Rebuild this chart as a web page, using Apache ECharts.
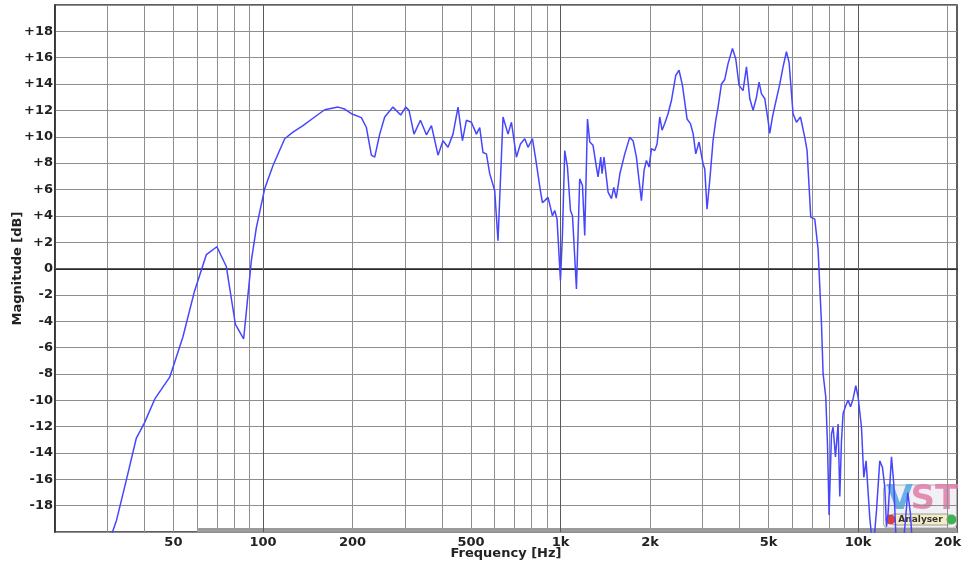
<!DOCTYPE html>
<html><head><meta charset="utf-8">
<script src="https://cdn.jsdelivr.net/npm/echarts@6/dist/echarts.min.js"></script>
<style>html,body{margin:0;padding:0;background:#fff}#c{width:962px;height:564px}</style>
</head><body><div id="c"></div>
<script>
// Frequency (Hz) and magnitude (dB)
const freqs = [30.5,31.2,32.2,34.7,37.5,40.0,43.3,48.6,53.8,58.9,64.5,70.0,75.3,80.8,86.1,91.4,95.0,101.3,108,118.3,126.1,136.3,149.2,161.2,178.7,188.2,198.2,214.1,222.6,231.4,237.4,246.8,256.5,273.5,290.3,301.8,309.6,321.8,338.2,354.2,368.3,387.5,402.7,418.6,435.2,452.4,468.1,482.7,501.8,521.6,535.1,548.9,563.5,578.1,600.9,616.4,640.8,666.1,683.9,710.9,733.2,758.1,777.7,804.5,825.3,855.9,869.4,885,907.9,939.3,956.1,973.3,999.3,1015,1033,1055,1080,1097,1131,1160,1185,1206,1232,1254,1286,1320,1337,1365,1379,1400,1445,1483,1510,1539,1585,1644,1708,1753,1799,1836,1870,1909,1944,1984,2021,2073,2111,2155,2194,2240,2298,2359,2439,2502,2569,2662,2733,2789,2848,2921,3013,3053,3107,3181,3255,3324,3384,3474,3564,3656,3783,3881,3981,4106,4216,4325,4437,4555,4647,4735,4857,4983,5049,5155,5289,5455,5596,5744,5862,6046,6207,6403,6619,6739,6934,7152,7336,7534,7628,7788,7891,7990,8140,8242,8395,8567,8680,8795,8905,9094,9256,9430,9620,9824,10000,10266,10452,10639,10946,11230,11529,11827,12078,12294,12459,12612,12950,13183,13462,14125,14690,14980,15280];
const mags = [-21.5,-20.0,-19.1,-16.1,-12.9,-11.7,-9.9,-8.25,-5.2,-1.7,1.05,1.65,0.15,-4.25,-5.35,0.6,3.1,6.05,7.8,9.85,10.35,10.85,11.5,12.05,12.25,12.1,11.75,11.45,10.7,8.6,8.45,10.2,11.5,12.25,11.65,12.25,12.0,10.2,11.25,10.15,10.85,8.6,9.7,9.2,10.2,12.25,9.7,11.25,11.1,10.2,10.7,8.8,8.7,7.2,5.9,2.1,11.5,10.2,11.1,8.45,9.45,9.85,9.2,9.85,8.3,5.9,5.0,5.15,5.4,4.0,4.4,3.75,-0.9,2.6,8.95,7.7,4.4,4.0,-1.55,6.8,6.3,2.5,11.35,9.6,9.35,7.7,6.95,8.45,7.2,8.45,5.8,5.3,6.15,5.35,7.25,8.7,9.95,9.7,8.45,6.7,5.15,7.45,8.2,7.7,9.1,8.95,9.45,11.5,10.5,11.0,11.75,12.75,14.65,15.05,13.9,11.35,11.0,10.25,8.7,9.6,7.95,7.55,4.5,6.95,9.7,11.25,12.25,14.0,14.35,15.55,16.7,15.9,13.9,13.5,15.3,12.9,12.0,13.0,14.15,13.25,12.9,11.25,10.25,11.5,12.65,14.0,15.3,16.45,15.65,11.75,11.1,11.5,9.95,8.95,3.9,3.75,1.5,-4.2,-8.0,-9.75,-13.3,-18.7,-12.55,-12.05,-14.3,-11.8,-17.3,-13.05,-11.0,-10.4,-10.0,-10.5,-9.9,-8.9,-9.75,-12.05,-15.85,-14.6,-18.9,-21.5,-18.4,-14.6,-15.1,-16.6,-19.6,-18.6,-14.3,-16.35,-21.5,-21.5,-17.0,-18.5,-21.5];

const xLabelValues = [50,100,200,500,1000,2000,5000,10000,20000];
const xGridValues = [20,30,40,50,60,70,80,90,100,200,300,400,500,600,700,800,900,1000,2000,3000,4000,5000,6000,7000,8000,9000,10000,20000];
const xMajorValues = [100,1000,10000];
const yMin = -20, yMax = 20, yStep = 2;
const rangeStart = 60, rangeEnd = 21500;

const chart = echarts.init(document.getElementById('c'), null, {renderer:'canvas'});
const font = '"DejaVu Sans", Verdana, sans-serif';
const data = freqs.map((f,i)=>[f,mags[i]]);

chart.setOption({
  animation:false,
  backgroundColor:'#fff',
  grid:{left:55,right:5,top:5,bottom:32,containLabel:false,outerBoundsMode:'none',show:true,borderColor:'#2a2a2a',borderWidth:1.5,backgroundColor:'transparent'},
  xAxis:{
    type:'log', logBase:10, min:20, max:rangeEnd,
    axisLine:{show:true,lineStyle:{color:'#2a2a2a',width:2}},
    axisTick:{show:false, customValues:xGridValues},
    splitLine:{show:true,lineStyle:{color:'#8e8e8e',width:1}},
    minorSplitLine:{show:false},
    axisLabel:{customValues:xLabelValues, fontFamily:font, fontWeight:'bold', fontSize:13, color:'#222', margin:4,
      formatter:v=> v>=1000 ? (v/1000)+'k' : String(v)},
    name:'Frequency [Hz]', nameLocation:'middle', nameGap:15, nameMoveOverlap:false,
    nameTextStyle:{fontFamily:font,fontWeight:'bold',fontSize:13,color:'#222'}
  },
  yAxis:{
    type:'value', min:yMin, max:yMax, interval:yStep,
    axisLine:{show:true,lineStyle:{color:'#2a2a2a',width:1.5}},
    axisTick:{show:false},
    splitLine:{show:true,lineStyle:{color:'#8e8e8e',width:1}},
    axisLabel:{fontFamily:font,fontWeight:'bold',fontSize:13,color:'#222',margin:2,
      formatter:v=> (v===yMin||v===yMax)?'':(v>0?'+'+v:String(v))},
    name:'Magnitude [dB]', nameLocation:'middle', nameGap:31, nameRotate:90, nameMoveOverlap:false,
    nameTextStyle:{fontFamily:font,fontWeight:'bold',fontSize:13,color:'#222'}
  },
  series:[
    {type:'line', data:[], silent:true, z:1,
      markLine:{silent:true,symbol:'none',label:{show:false},animation:false,
        lineStyle:{color:'#5a5a5a',width:1,type:'solid'},
        data: xMajorValues.map(v=>({xAxis:v})).concat([{yAxis:0}])},
      markArea:{silent:true,itemStyle:{color:'#9c9c9c'},
        data:[[{xAxis:rangeStart,yAxis:yMin},{xAxis:rangeEnd,yAxis:yMin+0.3}]]}
    },
    {type:'line', data:data, showSymbol:false, symbol:'none', z:5, clip:true,
      lineStyle:{color:'#4646ff',width:1.5}, itemStyle:{color:'#4646ff'}}
  ],
  graphic:[
    {type:'group', left:883, top:483, z:100, children:[
      {type:'rect', shape:{x:0,y:0,width:73,height:43,r:4}, style:{fill:'rgba(232,232,238,0.6)',stroke:'#b0b0b0',lineWidth:1}},
      {type:'text', x:3, y:-2, style:{text:'V', font:'bold 34px "DejaVu Sans", sans-serif', fill:'#5aa8e6', opacity:0.9}},
      {type:'text', x:27, y:-2, style:{text:'ST', font:'bold 34px "DejaVu Sans", sans-serif', fill:'#e07aa8', opacity:0.85}},
      {type:'rect', shape:{x:6,y:29,width:62,height:11,r:5}, style:{fill:'#f3ecc4',stroke:'#8a8a8a',lineWidth:0.8}},
      {type:'circle', shape:{cx:7,cy:34.5,r:5}, style:{fill:'#d94040'}},
      {type:'circle', shape:{cx:68,cy:34.5,r:5}, style:{fill:'#40b050'}},
      {type:'text', x:37, y:34.5, style:{text:'Analyser', font:'bold 9px "DejaVu Sans", sans-serif', fill:'#333', align:'center', verticalAlign:'middle'}}
    ]}
  ]
});
</script></body></html>
